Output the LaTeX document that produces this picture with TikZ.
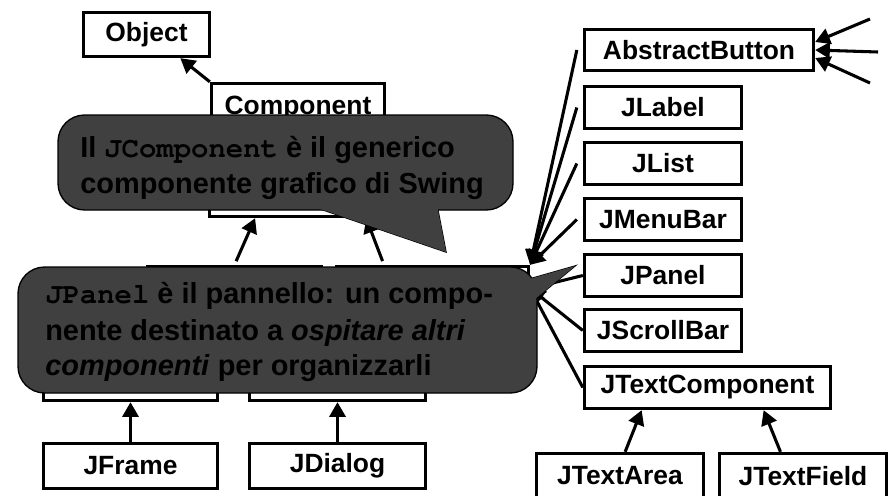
\documentclass[tikz,border=0pt]{standalone}
\usepackage{fontspec}
\setmainfont{Liberation Sans}
\newfontfamily\codefont{TeX Gyre Cursor}
\usetikzlibrary{arrows.meta}

\definecolor{balloon}{RGB}{64,64,64}
\newcommand{\javatt}[1]{{\codefont #1}}

\tikzset{
	cls/.style 2 args={draw, line width=2.5pt, fill=white, inner sep=0pt,
		minimum width=#1*0.75pt, minimum height=#2*0.75pt,
		font=\fontsize{19.8}{22}\selectfont\bfseries},
	inh/.style={-{Triangle[length=11pt,width=12pt]}, line width=2.3pt},
	balloonshape/.style={draw=black, line width=1pt, fill=balloon},
	balloontext/.style={anchor=base west, inner sep=0pt,
		font=\fontsize{21.7}{27}\selectfont\bfseries}
}

\begin{document}
\begin{tikzpicture}[x=0.75pt, y=-0.75pt]
	\clip (0,0) rectangle (896,496);
	\node[cls={126}{44}] (obj) at (146.5,34.5) {Object};
	\node[cls={173}{49}] (comp) at (298,108) {Component};
	\node[cls={175}{47}] (cont) at (297,193) {};
	\node[cls={174}{44}] (win) at (234.5,288.5) {};
	\node[cls={192}{44}] (jcomp) at (432.5,288.5) {};
	\node[cls={174}{42}] (frm) at (130.5,379.5) {};
	\node[cls={176}{42}] (dlg) at (337.5,379.5) {};
	\node[cls={174}{45}] (jfr) at (130.5,466) {JFrame};
	\node[cls={176}{45}] (jdl) at (337.5,466) {JDialog};
	\node[cls={229}{41}] (ab) at (699,50) {AbstractButton};
	\foreach \nm/\txt/\y in {jlab/JLabel/107.5, jlst/JList/163.5, jmb/JMenuBar/219.5, jpan/JPanel/275.5, jsb/JScrollBar/330.5}
		\node[cls={157}{42}] (\nm) at (663,\y) {\txt};
	\node[cls={246}{42}] (jtc) at (707.5,387.5) {JTextComponent};
	\node[cls={167}{45}] (jta) at (620,476) {JTextArea};
	\node[cls={167}{45}] (jtf) at (803,476) {JTextField};

	\draw[inh] (comp.north west) -- (obj.-35);
	\draw[inh, shorten <=3pt] (win.north) -- (cont.-149);
	\draw[inh, shorten <=3pt] (jcomp.154) -- (cont.-20);
	\draw[inh] (jfr.north) -- (frm.south);
	\draw[inh] (jdl.north) -- (dlg.south);
	\draw[inh] (jta.78) -- (jtc.-161);
	\draw[inh] (jtf.133) -- (jtc.-22);
	\foreach \nm in {ab,jlab,jlst,jmb}
		\draw[inh] ([xshift=-4.5pt]\nm.west) -- (jcomp.north east);
	\foreach \nm in {jpan,jsb,jtc}
		\draw[inh] (\nm.west) -- (jcomp.east);

	\coordinate (ab1) at (870,19);
	\coordinate (ab2) at (878,52);
	\coordinate (ab3) at (870,83);
	\draw[inh] (ab1) -- ([yshift=6pt]ab.east);
	\draw[inh] (ab2) -- (ab.east);
	\draw[inh] (ab3) -- ([yshift=-6pt]ab.east);

	\draw[balloonshape] (294,200) -- (446,252) -- (436,200) -- cycle;
	\draw[balloonshape, rounded corners=20pt] (58,115) rectangle (513,210);
	\fill[balloon] (294,200) -- (446,252) -- (436,200) -- cycle;
	\node[balloontext] (jcompa) at (80,157) {Il \javatt{JComponent} è il generico};
	\node[balloontext] (jcompb) at (80,193) {componente grafico di Swing};

	\draw[balloonshape] (512,284) -- (575,266) -- (512,318) -- cycle;
	\draw[balloonshape, rounded corners=20pt] (18,267) rectangle (537,393);
	\fill[balloon] (512,284) -- (575,266) -- (512,318) -- cycle;
	\node[balloontext] (jpana) at (45,303) {\javatt{JPanel} è il pannello: un compo-};
	\node[balloontext] (jpanb) at (45,340) {nente destinato a \textit{ospitare altri}};
	\node[balloontext] (jpanc) at (45,375) {\textit{componenti} per organizzarli};
\end{tikzpicture}
\end{document}
